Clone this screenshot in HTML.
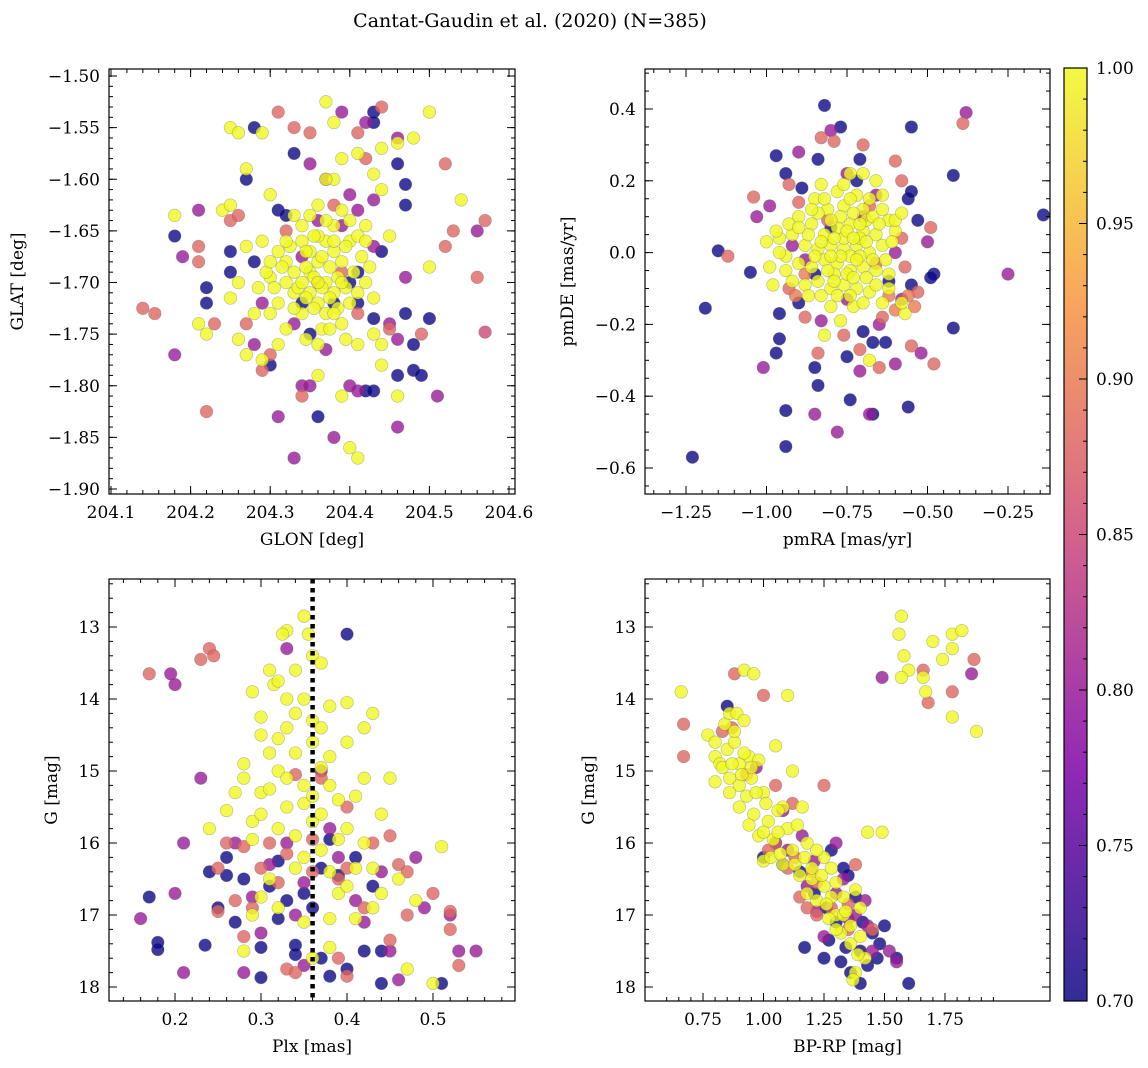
<!DOCTYPE html>
<html><head><meta charset="utf-8"><style>
html,body{margin:0;padding:0;background:#fff}
svg{display:block;font-family:"DejaVu Serif","Liberation Serif",serif}
</style></head><body>
<svg id="fig" width="1148" height="1068" viewBox="0 0 1148 1068" xmlns="http://www.w3.org/2000/svg">
<defs><linearGradient id="cbg" x1="0" y1="1" x2="0" y2="0">
<stop offset="0" stop-color="#0d0887"/><stop offset="0.25" stop-color="#7e03a8"/><stop offset="0.5" stop-color="#cc4778"/><stop offset="0.75" stop-color="#f89540"/><stop offset="1" stop-color="#f0f921"/></linearGradient></defs>
<text x="530" y="27" text-anchor="middle" font-size="19">Cantat-Gaudin et al. (2020) (N=385)</text>
</svg>
<script>
// ---- data: [x, y, membership probability] ----
const posData=[
[204.28,-1.55,0.7],[204.27,-1.60,0.7],[204.33,-1.575,0.7],[204.43,-1.535,0.7],[204.43,-1.545,0.7],[204.46,-1.585,0.7],[204.47,-1.605,0.7],[204.47,-1.625,0.7],[204.18,-1.655,0.7],[204.31,-1.63,0.7],[204.32,-1.635,0.7],[204.25,-1.67,0.7],[204.25,-1.69,0.7],[204.22,-1.705,0.7],[204.44,-1.67,0.7],[204.41,-1.69,0.7],[204.40,-1.70,0.7],[204.34,-1.72,0.7],[204.43,-1.735,0.7],[204.47,-1.73,0.7],[204.50,-1.735,0.7],[204.48,-1.76,0.7],[204.46,-1.79,0.7],[204.48,-1.785,0.7],[204.49,-1.79,0.7],[204.30,-1.78,0.7],[204.36,-1.83,0.7],[204.42,-1.805,0.7],[204.43,-1.805,0.7],[204.35,-1.75,0.7],[204.41,-1.72,0.7],[204.38,-1.72,0.7],[204.22,-1.72,0.7],[204.28,-1.68,0.7],
[204.35,-1.585,0.8],[204.37,-1.60,0.8],[204.40,-1.615,0.8],[204.43,-1.62,0.8],[204.36,-1.64,0.8],[204.39,-1.645,0.8],[204.21,-1.63,0.8],[204.34,-1.675,0.8],[204.47,-1.695,0.8],[204.29,-1.72,0.8],[204.33,-1.74,0.8],[204.37,-1.765,0.8],[204.34,-1.80,0.8],[204.35,-1.80,0.8],[204.40,-1.80,0.8],[204.41,-1.805,0.8],[204.31,-1.83,0.8],[204.38,-1.85,0.8],[204.33,-1.87,0.8],[204.46,-1.84,0.8],[204.51,-1.81,0.8],[204.18,-1.77,0.8],[204.46,-1.755,0.8],[204.56,-1.65,0.8],[204.43,-1.665,0.8],[204.46,-1.56,0.8],[204.42,-1.545,0.8],[204.39,-1.535,0.8],[204.19,-1.675,0.8],[204.41,-1.63,0.8],[204.45,-1.74,0.8],[204.28,-1.76,0.8],
[204.31,-1.535,0.88],[204.33,-1.55,0.88],[204.35,-1.555,0.88],[204.41,-1.555,0.88],[204.44,-1.53,0.88],[204.52,-1.585,0.88],[204.14,-1.725,0.88],[204.155,-1.73,0.88],[204.22,-1.825,0.88],[204.23,-1.74,0.88],[204.29,-1.785,0.88],[204.27,-1.74,0.88],[204.25,-1.64,0.88],[204.21,-1.665,0.88],[204.21,-1.68,0.88],[204.34,-1.81,0.88],[204.36,-1.70,0.88],[204.39,-1.69,0.88],[204.53,-1.65,0.88],[204.52,-1.665,0.88],[204.57,-1.64,0.88],[204.56,-1.695,0.88],[204.49,-1.75,0.88],[204.45,-1.745,0.88],[204.38,-1.625,0.88],[204.32,-1.65,0.88],[204.42,-1.58,0.88],[204.41,-1.73,0.88],[204.26,-1.635,0.88],[204.30,-1.77,0.88],[204.57,-1.748,0.85],
[204.37,-1.525,1],[204.38,-1.545,1],[204.25,-1.55,1],[204.26,-1.555,1],[204.29,-1.555,1],[204.50,-1.535,1],[204.44,-1.57,1],[204.46,-1.565,1],[204.48,-1.56,1],[204.41,-1.575,1],[204.27,-1.59,1],[204.43,-1.595,1],[204.38,-1.60,1],[204.39,-1.58,1],[204.30,-1.615,1],[204.44,-1.61,1],[204.54,-1.62,1],[204.18,-1.635,1],[204.24,-1.63,1],[204.25,-1.625,1],[204.33,-1.635,1],[204.36,-1.625,1],[204.39,-1.63,1],[204.40,-1.64,1],[204.42,-1.645,1],[204.45,-1.655,1],[204.50,-1.685,1],[204.25,-1.715,1],[204.21,-1.74,1],[204.22,-1.75,1],[204.26,-1.755,1],[204.27,-1.77,1],[204.29,-1.775,1],[204.30,-1.73,1],[204.31,-1.76,1],[204.32,-1.745,1],[204.36,-1.79,1],[204.39,-1.81,1],[204.40,-1.86,1],[204.41,-1.87,1],[204.44,-1.78,1],[204.46,-1.81,1],[204.43,-1.75,1],[204.44,-1.76,1],[204.26,-1.70,1],[204.27,-1.665,1],[204.29,-1.66,1],[204.30,-1.695,1],[204.31,-1.67,1],[204.32,-1.68,1],[204.33,-1.69,1],[204.34,-1.66,1],[204.35,-1.67,1],[204.36,-1.68,1],[204.37,-1.66,1],[204.38,-1.67,1],[204.39,-1.68,1],[204.40,-1.66,1],[204.41,-1.655,1],[204.42,-1.70,1],[204.35,-1.71,1],[204.36,-1.72,1],[204.37,-1.73,1],[204.38,-1.71,1],[204.34,-1.73,1],[204.33,-1.71,1],[204.32,-1.70,1],[204.39,-1.74,1],[204.40,-1.72,1],[204.37,-1.70,1],[204.35,-1.69,1],[204.36,-1.655,1],[204.38,-1.645,1],[204.34,-1.645,1],[204.31,-1.72,1],[204.36,-1.76,1],[204.41,-1.76,1],[204.28,-1.73,1],[204.37,-1.60,1],
[204.345,-1.685,1],[204.355,-1.695,1],[204.365,-1.705,1],[204.375,-1.685,1],[204.385,-1.695,1],[204.395,-1.705,1],[204.335,-1.705,1],[204.325,-1.665,1],[204.315,-1.685,1],[204.345,-1.715,1],[204.355,-1.725,1],[204.375,-1.715,1],[204.385,-1.725,1],[204.405,-1.69,1],[204.415,-1.675,1],[204.395,-1.665,1],[204.365,-1.675,1],[204.355,-1.655,1],[204.345,-1.67,1],[204.305,-1.705,1],[204.295,-1.69,1],[204.285,-1.705,1],[204.365,-1.745,1],[204.345,-1.755,1],[204.395,-1.755,1],[204.425,-1.685,1],[204.43,-1.715,1],[204.375,-1.745,1],[204.33,-1.725,1],[204.38,-1.66,1],[204.41,-1.71,1],[204.32,-1.66,1],[204.37,-1.64,1],[204.35,-1.635,1],[204.42,-1.66,1],[204.30,-1.68,1],[204.34,-1.70,1],[204.36,-1.70,1],[204.39,-1.70,1],[204.38,-1.73,1]];
const pmData=[
[-1.23,-0.57,0.7],[-0.94,-0.54,0.7],[-0.94,-0.44,0.7],[-0.74,-0.41,0.7],[-0.67,-0.45,0.7],[-0.56,-0.43,0.7],[-0.82,0.41,0.7],[-0.77,0.35,0.7],[-0.55,0.35,0.7],[-0.14,0.105,0.7],[-0.42,0.215,0.7],[-0.42,-0.21,0.7],[-1.19,-0.155,0.7],[-1.15,0.005,0.7],[-1.05,-0.055,0.7],[-0.97,0.27,0.7],[-0.94,0.22,0.7],[-0.84,0.26,0.7],[-0.89,0.18,0.7],[-0.71,0.26,0.7],[-0.56,0.15,0.7],[-0.55,0.17,0.7],[-0.53,0.09,0.7],[-0.48,-0.06,0.7],[-0.49,-0.07,0.7],[-0.97,-0.28,0.7],[-0.96,-0.24,0.7],[-0.85,-0.32,0.7],[-0.84,-0.37,0.7],[-0.70,-0.22,0.7],[-0.67,-0.25,0.7],[-0.63,-0.25,0.7],[-0.96,-0.17,0.7],[-0.90,-0.14,0.7],[-0.75,-0.29,0.7],[-0.62,-0.08,0.7],[-0.55,-0.09,0.7],[-0.85,-0.06,0.7],[-0.80,0.07,0.7],[-0.72,0.20,0.7],
[-0.38,0.39,0.8],[-0.25,-0.06,0.8],[-1.01,-0.32,0.8],[-1.03,0.10,0.8],[-0.99,0.13,0.8],[-0.85,-0.45,0.8],[-0.78,-0.50,0.8],[-0.71,-0.33,0.8],[-0.68,-0.45,0.8],[-0.60,-0.31,0.8],[-0.52,-0.28,0.8],[-0.90,0.28,0.8],[-0.80,0.34,0.8],[-0.75,0.22,0.8],[-0.92,0.02,0.8],[-0.66,0.16,0.8],[-0.83,-0.19,0.8],[-0.58,-0.13,0.8],[-0.60,0.0,0.8],[-0.75,-0.13,0.8],[-0.88,-0.02,0.8],[-0.70,0.10,0.8],[-0.50,0.03,0.8],[-0.65,-0.20,0.8],
[-0.39,0.36,0.88],[-1.04,0.155,0.88],[-1.12,-0.01,0.88],[-0.83,0.32,0.88],[-0.79,0.31,0.88],[-0.70,0.30,0.88],[-0.60,0.255,0.88],[-0.58,0.20,0.88],[-0.49,0.07,0.88],[-0.48,-0.31,0.88],[-0.55,-0.26,0.88],[-0.65,-0.32,0.88],[-0.71,-0.27,0.88],[-0.84,-0.28,0.88],[-0.88,-0.18,0.88],[-0.93,0.19,0.88],[-0.64,-0.18,0.88],[-0.53,-0.11,0.88],[-0.93,-0.10,0.88],[-0.66,-0.03,0.88],[-0.58,0.04,0.88],[-0.81,0.09,0.88],[-0.90,0.14,0.88],[-0.76,-0.23,0.88],[-0.57,-0.04,0.88],[-0.68,0.13,0.88],[-0.62,-0.12,0.9],[-0.60,-0.16,0.9],[-0.56,-0.12,0.9],[-0.54,-0.15,0.9],[-0.88,-0.06,0.9],[-0.91,-0.12,0.9],
[-0.70,0.22,1],[-0.74,0.22,1],[-0.66,0.2,1],[-0.78,0.17,1],[-0.72,0.16,1],[-0.64,0.16,1],[-0.85,0.15,1],[-0.81,0.12,1],[-0.76,0.13,1],[-0.70,0.12,1],[-0.62,0.09,1],[-0.90,0.10,1],[-0.86,0.08,1],[-0.82,0.05,1],[-0.78,0.07,1],[-0.74,0.08,1],[-0.70,0.06,1],[-0.66,0.05,1],[-0.60,0.06,1],[-1.00,0.03,1],[-0.96,0.04,1],[-0.92,0.05,1],[-0.88,0.02,1],[-0.84,0.01,1],[-0.80,0.02,1],[-0.76,0.01,1],[-0.72,0.02,1],[-0.68,0.0,1],[-0.64,0.02,1],[-0.94,-0.01,1],[-0.90,-0.03,1],[-0.86,-0.04,1],[-0.82,-0.02,1],[-0.78,-0.03,1],[-0.74,-0.05,1],[-0.70,-0.04,1],[-0.66,-0.05,1],[-0.62,-0.06,1],[-0.92,-0.08,1],[-0.88,-0.09,1],[-0.84,-0.08,1],[-0.80,-0.10,1],[-0.76,-0.09,1],[-0.72,-0.10,1],[-0.68,-0.11,1],[-0.64,-0.14,1],[-0.80,-0.15,1],[-0.77,-0.19,1],[-0.73,-0.15,1],[-0.82,-0.23,1],[-0.68,-0.30,1],[-0.57,-0.17,1],[-0.58,-0.14,1],[-0.60,0.09,1],[-0.58,0.11,1],[-0.98,-0.09,1],[-0.96,0.0,1],[-0.83,0.19,1],[-0.76,0.04,1],[-0.79,-0.06,1],[-0.74,-0.01,1],[-0.71,0.04,1],
[-0.77,0.10,1],[-0.73,0.11,1],[-0.69,0.09,1],[-0.80,0.09,1],[-0.84,0.11,1],[-0.75,0.06,1],[-0.71,0.08,1],[-0.67,0.10,1],[-0.79,0.04,1],[-0.83,0.03,1],[-0.87,0.05,1],[-0.73,0.04,1],[-0.69,0.03,1],[-0.65,0.08,1],[-0.77,-0.01,1],[-0.81,-0.05,1],[-0.85,-0.01,1],[-0.71,-0.01,1],[-0.67,-0.02,1],[-0.75,-0.06,1],[-0.79,-0.08,1],[-0.83,-0.12,1],[-0.73,-0.07,1],[-0.69,-0.07,1],[-0.63,-0.02,1],[-0.61,0.03,1],[-0.87,-0.12,1],[-0.78,-0.12,1],[-0.74,-0.12,1],[-0.70,-0.14,1],[-0.66,-0.09,1],[-0.82,0.15,1],[-0.74,0.15,1],[-0.68,0.15,1],[-0.76,0.19,1],[-0.86,0.12,1],[-0.93,0.08,1],[-0.97,0.06,1],[-0.99,-0.04,1],[-0.94,-0.05,1],[-0.64,0.12,1],[-0.62,-0.10,1],[-0.90,0.07,1],[-0.80,-0.01,1],[-0.72,-0.02,1]];
const plxData=[
[0.17,16.75,0.7],[0.18,17.38,0.7],[0.18,17.48,0.7],[0.235,17.42,0.7],[0.24,16.4,0.7],[0.26,16.45,0.7],[0.26,16.2,0.7],[0.27,17.1,0.7],[0.30,17.45,0.7],[0.30,17.87,0.7],[0.32,17.05,0.7],[0.34,17.42,0.7],[0.34,17.55,0.7],[0.37,17.6,0.7],[0.38,17.85,0.7],[0.40,17.75,0.7],[0.42,17.5,0.7],[0.44,17.5,0.7],[0.44,17.95,0.7],[0.51,17.95,0.7],[0.40,13.1,0.7],[0.35,16.7,0.7],[0.37,16.35,0.7],[0.43,16.6,0.7],[0.32,16.25,0.7],[0.38,15.95,0.7],[0.28,16.5,0.7],[0.36,16.9,0.7],[0.41,16.2,0.7],[0.25,16.9,0.7],[0.31,16.6,0.7],[0.39,16.45,0.7],[0.33,16.8,0.7],
[0.195,13.65,0.8],[0.20,13.8,0.8],[0.23,15.1,0.8],[0.21,16.0,0.8],[0.20,16.7,0.8],[0.16,17.05,0.8],[0.21,17.8,0.8],[0.28,17.8,0.8],[0.35,17.7,0.8],[0.46,17.9,0.8],[0.53,17.5,0.8],[0.55,17.5,0.8],[0.52,17.0,0.8],[0.49,16.9,0.8],[0.48,16.2,0.8],[0.44,16.4,0.8],[0.33,16.0,0.8],[0.33,13.3,0.8],[0.37,15.0,0.8],[0.38,15.8,0.8],[0.27,16.0,0.8],[0.29,16.75,0.8],[0.31,16.3,0.8],[0.42,17.1,0.8],[0.45,17.5,0.8],[0.41,16.8,0.8],[0.30,17.25,0.8],[0.34,17.0,0.8],[0.39,16.2,0.8],[0.35,16.55,0.8],
[0.17,13.65,0.88],[0.24,13.3,0.88],[0.245,13.4,0.88],[0.23,13.45,0.88],[0.25,16.35,0.88],[0.26,16.0,0.88],[0.25,16.95,0.88],[0.27,16.8,0.88],[0.28,17.3,0.88],[0.33,17.75,0.88],[0.34,17.8,0.88],[0.39,17.6,0.88],[0.40,17.85,0.88],[0.45,17.35,0.88],[0.47,17.0,0.88],[0.50,16.7,0.88],[0.52,17.2,0.88],[0.52,16.95,0.88],[0.53,17.7,0.88],[0.46,16.3,0.88],[0.43,16.0,0.88],[0.40,15.5,0.88],[0.37,15.1,0.88],[0.34,15.05,0.88],[0.31,16.0,0.88],[0.30,16.35,0.88],[0.28,16.05,0.88],[0.29,16.9,0.88],[0.45,15.9,0.88],[0.47,16.4,0.88],[0.36,16.4,0.88],[0.39,16.5,0.88],[0.42,16.9,0.88],[0.33,16.15,0.88],[0.36,15.95,0.88],[0.40,16.35,0.88],[0.32,16.55,0.88],
[0.35,12.85,1],[0.33,13.05,1],[0.325,13.1,1],[0.355,13.1,1],[0.36,13.4,1],[0.37,13.5,1],[0.31,13.6,1],[0.315,13.8,1],[0.33,14.0,1],[0.29,13.9,1],[0.30,14.25,1],[0.35,14.0,1],[0.38,14.1,1],[0.40,14.05,1],[0.43,14.2,1],[0.42,14.4,1],[0.33,14.4,1],[0.36,14.6,1],[0.38,14.8,1],[0.31,14.75,1],[0.28,14.9,1],[0.28,15.1,1],[0.30,15.3,1],[0.35,15.2,1],[0.39,15.4,1],[0.41,15.35,1],[0.45,15.1,1],[0.27,15.3,1],[0.33,15.5,1],[0.29,15.7,1],[0.36,15.7,1],[0.40,15.8,1],[0.42,16.0,1],[0.43,16.35,1],[0.46,16.5,1],[0.48,16.8,1],[0.51,16.05,1],[0.37,16.1,1],[0.31,16.5,1],[0.29,17.0,1],[0.32,16.9,1],[0.38,17.05,1],[0.41,17.05,1],[0.28,17.5,1],[0.38,17.45,1],[0.36,17.6,1],[0.50,17.95,1],[0.47,17.75,1],[0.32,15.0,1],[0.34,15.9,1],[0.39,16.7,1],[0.36,14.3,1],[0.34,13.6,1],[0.30,15.6,1],[0.44,16.7,1],[0.24,15.8,1],[0.42,15.1,1],[0.35,16.2,1],
[0.32,13.75,1],[0.34,14.2,1],[0.37,14.4,1],[0.32,14.55,1],[0.34,14.75,1],[0.37,14.95,1],[0.33,15.1,1],[0.31,15.25,1],[0.38,15.2,1],[0.35,15.45,1],[0.37,15.6,1],[0.32,15.8,1],[0.39,15.95,1],[0.34,16.35,1],[0.38,16.4,1],[0.30,16.75,1],[0.40,16.6,1],[0.35,17.1,1],[0.43,16.9,1],[0.26,15.55,1],[0.29,15.95,1],[0.44,15.6,1],[0.40,14.6,1],[0.30,14.5,1],[0.36,15.35,1],[0.41,16.35,1]];
const cmdData=[
[0.85,14.1,0.7],[1.00,16.2,0.7],[1.05,16.0,0.7],[1.15,16.4,0.7],[1.17,17.45,0.7],[1.28,16.1,0.7],[1.33,16.35,0.7],[1.35,16.45,0.7],[1.38,16.75,0.7],[1.30,17.1,0.7],[1.27,17.35,0.7],[1.32,17.65,0.7],[1.36,17.8,0.7],[1.40,17.5,0.7],[1.43,17.7,0.7],[1.47,17.6,0.7],[1.50,17.15,0.7],[1.45,17.25,0.7],[1.55,17.6,0.7],[1.60,17.95,0.7],[1.25,17.6,0.7],[1.21,16.7,0.7],[1.08,16.3,0.7],[1.40,17.95,0.7],[1.48,17.4,0.7],[1.34,17.45,0.7],[1.41,17.1,0.7],[1.26,16.9,0.7],
[1.49,13.7,0.8],[1.86,13.65,0.8],[0.97,14.95,0.8],[1.08,15.55,0.8],[1.16,15.9,0.8],[1.30,16.0,0.8],[1.21,16.25,0.8],[1.33,16.5,0.8],[1.42,16.8,0.8],[1.38,17.0,0.8],[1.45,17.5,0.8],[1.52,17.5,0.8],[1.55,17.65,0.8],[1.22,16.95,0.8],[1.30,16.7,0.8],[1.10,16.1,0.8],[1.25,17.3,0.8],[1.43,17.15,0.8],[1.18,16.6,0.8],[1.35,17.05,0.8],
[0.67,14.35,0.88],[0.67,14.8,0.88],[0.88,13.65,0.88],[1.00,13.95,0.88],[1.68,14.05,0.88],[1.66,13.6,0.88],[1.78,13.9,0.88],[1.87,13.45,0.88],[0.87,14.4,0.88],[0.83,14.45,0.88],[0.93,15.05,0.88],[1.05,15.2,0.88],[1.25,15.2,0.88],[1.12,15.45,0.88],[1.05,16.0,0.88],[1.10,16.35,0.88],[1.18,16.9,0.88],[1.22,17.0,0.88],[1.28,16.9,0.88],[1.38,16.3,0.88],[1.35,16.85,0.88],[1.45,17.2,0.88],[1.35,17.2,0.88],[1.22,16.55,0.88],[1.15,16.75,0.88],[1.02,16.1,0.88],[1.13,16.2,0.88],[1.20,16.4,0.88],
[0.66,13.9,1],[1.57,12.85,1],[1.56,13.1,1],[1.58,13.4,1],[1.60,13.6,1],[1.66,13.7,1],[1.67,13.9,1],[1.70,13.2,1],[1.74,13.45,1],[1.78,13.1,1],[1.82,13.05,1],[1.78,13.3,1],[1.78,14.25,1],[1.88,14.45,1],[1.57,13.7,1],[0.92,13.6,1],[0.96,13.65,1],[1.10,13.95,1],[0.77,14.5,1],[0.80,14.6,1],[0.84,14.35,1],[0.86,14.2,1],[0.89,14.2,1],[0.92,14.3,1],[0.80,14.8,1],[0.82,14.9,1],[0.85,14.7,1],[0.88,14.6,1],[0.90,14.9,1],[0.94,14.8,1],[0.98,14.85,1],[1.05,14.65,1],[1.12,15.0,1],[0.80,15.15,1],[0.86,15.1,1],[0.90,15.2,1],[0.95,15.1,1],[1.00,15.3,1],[0.90,15.5,1],[0.96,15.6,1],[1.02,15.7,1],[1.08,15.5,1],[1.10,15.8,1],[0.98,15.9,1],[1.04,15.95,1],[1.12,16.1,1],[1.00,16.25,1],[1.08,16.3,1],[1.15,16.45,1],[1.20,16.5,1],[1.25,16.6,1],[1.22,16.8,1],[1.28,16.75,1],[1.30,17.0,1],[1.27,17.05,1],[1.33,17.0,1],[1.32,17.25,1],[1.36,17.4,1],[1.40,17.3,1],[1.42,17.6,1],[1.38,17.8,1],[1.37,17.9,1],[1.49,15.85,1],[1.43,15.85,1],[1.38,16.65,1],[1.40,16.9,1],[1.16,15.5,1],[1.18,16.0,1],[1.06,15.55,1],[1.25,16.2,1],
[0.83,14.95,1],[0.87,14.9,1],[0.92,14.75,1],[0.95,14.95,1],[0.86,15.3,1],[0.93,15.35,1],[0.97,15.3,1],[1.01,15.45,1],[0.94,15.75,1],[1.00,15.85,1],[1.06,15.85,1],[1.03,16.2,1],[1.07,16.15,1],[1.13,16.3,1],[1.17,16.2,1],[1.20,16.35,1],[1.24,16.45,1],[1.18,16.7,1],[1.26,16.85,1],[1.30,16.55,1],[1.34,16.95,1],[1.30,17.2,1],[1.36,17.15,1],[1.39,17.55,1],[0.88,14.45,1],[0.91,15.05,1],[1.14,15.75,1],[1.22,16.1,1],[1.28,16.35,1],[1.33,16.75,1]];
const plxMedian=[0.36];
const posXTicks=[204.1,204.2,204.3,204.4,204.5,204.6];
const posYTicks=[-1.50,-1.55,-1.60,-1.65,-1.70,-1.75,-1.80,-1.85,-1.90];
const pmXTicks=[-1.25,-1.00,-0.75,-0.50,-0.25];
const pmYTicks=[0.4,0.2,0.0,-0.2,-0.4,-0.6];
const plxXTicks=[0.2,0.3,0.4,0.5];
const magTicks=[13,14,15,16,17,18];
const cmdXTicks=[0.75,1.00,1.25,1.50,1.75];
const cbTicks=[0.70,0.75,0.80,0.85,0.90,0.95,1.00];

const NS='http://www.w3.org/2000/svg';
const svg=document.getElementById('fig');
function mk(tag,at,parent){const e=document.createElementNS(NS,tag);for(const k in at)e.setAttribute(k,at[k]);(parent||svg).appendChild(e);return e;}
const stops=[[0,[13,8,135]],[0.25,[126,3,168]],[0.5,[204,71,120]],[0.75,[248,149,64]],[1,[240,249,33]]];
function plasma(c){let t=Math.max(0,Math.min(1,(c-0.7)/0.3));for(let i=0;i<4;i++){const a=stops[i],b=stops[i+1];if(t<=b[0]){const f=(t-a[0])/(b[0]-a[0]);return 'rgb('+a[1].map((v,j)=>Math.round(v+(b[1][j]-v)*f)).join(',')+')';}}return 'rgb(240,249,33)';}
function lin(d0,d1,r0,r1){return v=>r0+(v-d0)*(r1-r0)/(d1-d0);}
function fmt(v,dec){const s=Math.abs(v).toFixed(dec);return (v<0?'\u2212':'')+s;}
const FS=17;
function panel(o){
  const g=mk('g',{});
  
  
  const sx=lin(o.xd[0],o.xd[1],o.xr[0],o.xr[1]), sy=lin(o.yd[0],o.yd[1],o.yr[0],o.yr[1]);
  const B=o.box;
  const pts=o.data.slice().sort((a,b)=>a[2]-b[2]);
  const pg=mk('g',{},g);
  
  
  pts.forEach(p=>{const cx=sx(p[0]),cy=sy(p[1]);if(cx<B[0]||cx>B[2]||cy<B[1]||cy>B[3])return;
    const c=mk('circle',{cx:cx.toFixed(1),cy:cy.toFixed(1),r:6.3,fill:plasma(p[2]),'fill-opacity':0.8,stroke:'#555','stroke-opacity':0.35,'stroke-width':0.7},pg);
    
    });
  if(o.vline){o.vline.forEach(v=>{const l=mk('line',{x1:sx(v),x2:sx(v),y1:B[1],y2:B[3],stroke:'#000','stroke-width':4.5,'stroke-dasharray':'4.5,4.5'},g);
    
    });}
  const fr=mk('rect',{x:B[0],y:B[1],width:B[2]-B[0],height:B[3]-B[1],fill:'none',stroke:'#000','stroke-width':1.2},g);
  
  
  const tg=mk('g',{stroke:'#000','stroke-width':1},g);
  for(let v=o.xmin[0];v<=o.xmin[1]+1e-9;v+=o.xmin[2]){const x=sx(v);if(x<B[0]||x>B[2])continue;mk('line',{x1:x,x2:x,y1:B[3],y2:B[3]-4},tg);mk('line',{x1:x,x2:x,y1:B[1],y2:B[1]+4},tg);}
  for(let v=o.ymin[0];v<=o.ymin[1]+1e-9;v+=o.ymin[2]){const y=sy(v);if(y<B[1]||y>B[3])continue;mk('line',{x1:B[0],x2:B[0]+4,y1:y,y2:y},tg);mk('line',{x1:B[2],x2:B[2]-4,y1:y,y2:y},tg);}
  o.xt.forEach(v=>{const x=sx(v);mk('line',{x1:x,x2:x,y1:B[3],y2:B[3]-8},tg);mk('line',{x1:x,x2:x,y1:B[1],y2:B[1]+8},tg);
    const t=mk('text',{x:x,y:B[3]+24,'text-anchor':'middle','font-size':FS},g);t.textContent=fmt(v,o.xdec);
    
    });
  o.yt.forEach(v=>{const y=sy(v);mk('line',{x1:B[0],x2:B[0]+8,y1:y,y2:y},tg);mk('line',{x1:B[2],x2:B[2]-8,y1:y,y2:y},tg);
    const t=mk('text',{x:B[0]-9,y:y+6,'text-anchor':'end','font-size':FS},g);t.textContent=fmt(v,o.ydec);
    
    });
  const xl=mk('text',{x:(B[0]+B[2])/2,y:B[3]+51,'text-anchor':'middle','font-size':FS},g);xl.textContent=o.xlab;
  
  
  const yl=mk('text',{x:o.ylx,y:(B[1]+B[3])/2,'text-anchor':'middle','font-size':FS,transform:'rotate(-90 '+o.ylx+' '+((B[1]+B[3])/2)+')'},g);yl.textContent=o.ylab;
  
  
}
panel({name:'position-panel',data:posData,box:[109,69,515,494],xd:[204.1,204.6],xr:[111,509],yd:[-1.5,-1.9],yr:[76,489],xt:posXTicks,yt:posYTicks,xdec:1,ydec:2,xmin:[204.1,204.62,0.02],ymin:[-1.90,-1.49,0.01],xlab:'GLON [deg]',ylab:'GLAT [deg]',ylx:23});
panel({name:'proper-motion-panel',data:pmData,box:[645,69,1050,494],xd:[-1.25,-0.25],xr:[686,1008],yd:[0.4,-0.6],yr:[109,468],xt:pmXTicks,yt:pmYTicks,xdec:2,ydec:1,xmin:[-1.35,-0.05,0.05],ymin:[-0.65,0.5,0.05],xlab:'pmRA [mas/yr]',ylab:'pmDE [mas/yr]',ylx:573});
panel({name:'parallax-magnitude-panel',data:plxData,box:[109,579,515,1001],xd:[0.2,0.5],xr:[175,433],yd:[13,18],yr:[627,987],xt:plxXTicks,yt:magTicks,xdec:1,ydec:0,xmin:[0.12,0.6,0.02],ymin:[12.4,18.2,0.2],xlab:'Plx [mas]',ylab:'G [mag]',ylx:57,vline:plxMedian});
panel({name:'color-magnitude-panel',data:cmdData,box:[645,579,1050,1001],xd:[0.75,1.75],xr:[703,945],yd:[13,18],yr:[627,987],xt:cmdXTicks,yt:magTicks,xdec:2,ydec:0,xmin:[0.6,1.95,0.05],ymin:[12.4,18.2,0.2],xlab:'BP-RP [mag]',ylab:'G [mag]',ylx:594});
const cb=mk('g',{});


const cy=lin(0.7,1.0,1001,68);
mk('rect',{x:1064,y:68,width:23,height:933,fill:'url(#cbg)',opacity:0.85},cb);
mk('rect',{x:1064,y:68,width:23,height:933,fill:'none',stroke:'#000','stroke-width':1.2},cb);
for(let v=0.70;v<=1.0001;v+=0.01){const y=cy(v);mk('line',{x1:1087,x2:1083,y1:y,y2:y,stroke:'#000'},cb);}
cbTicks.forEach(v=>{const y=cy(v);mk('line',{x1:1087,x2:1079,y1:y,y2:y,stroke:'#000'},cb);
  const t=mk('text',{x:1096,y:y+6,'font-size':FS},cb);t.textContent=v.toFixed(2);
  
  });
</script>
</body></html>
